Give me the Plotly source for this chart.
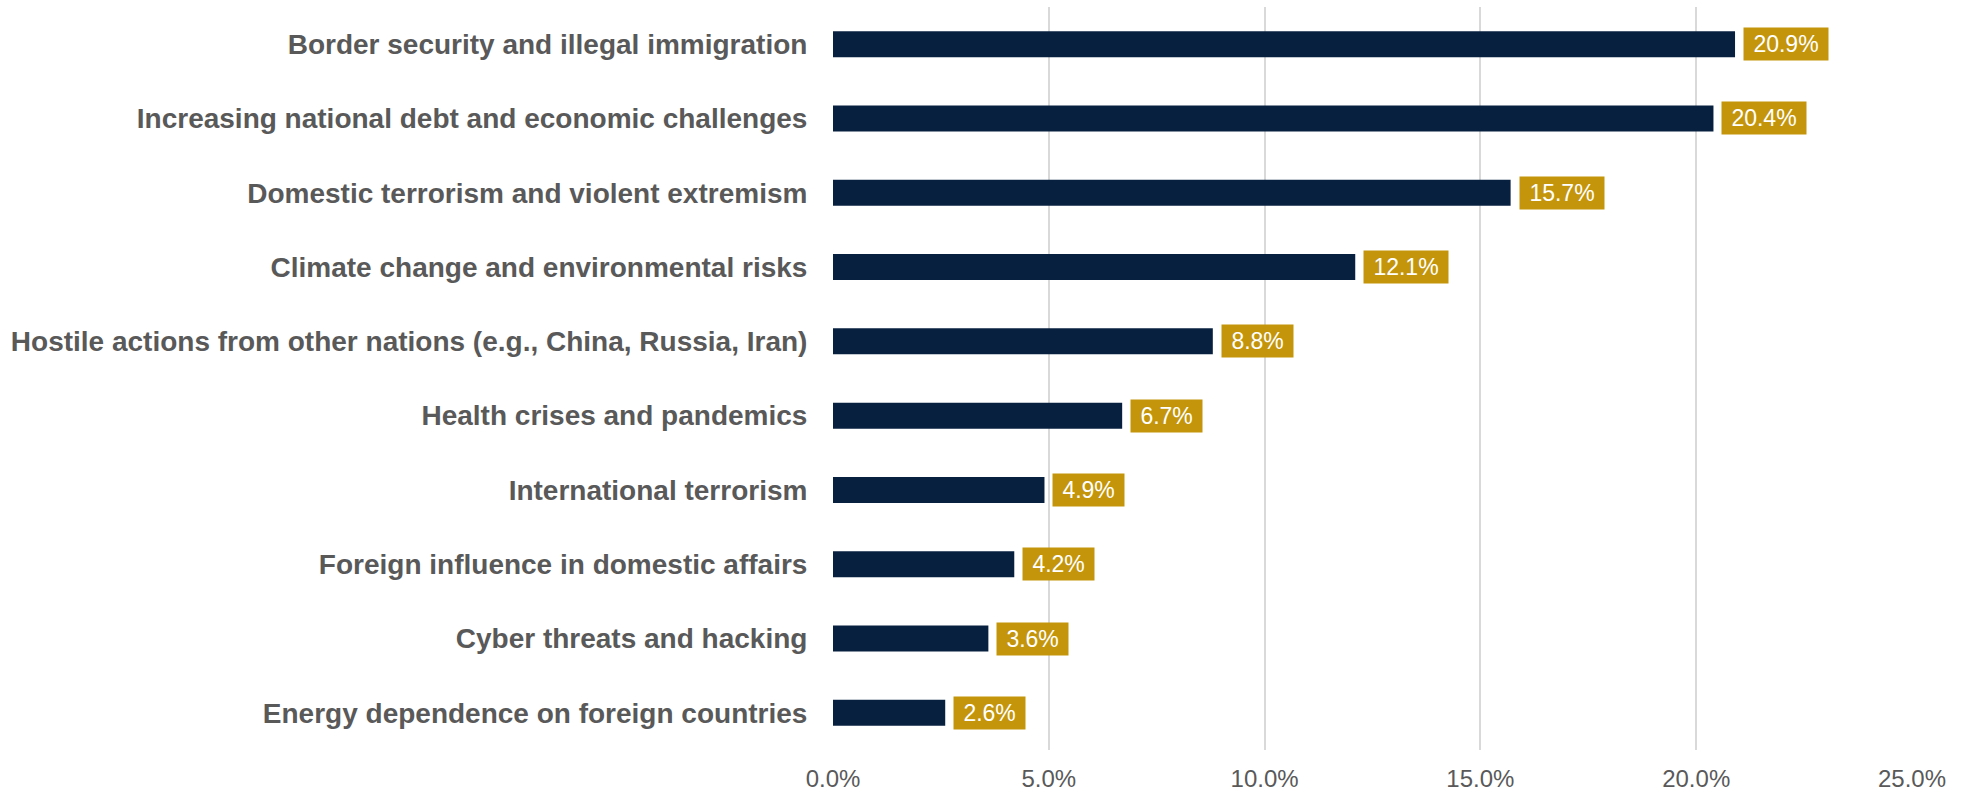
import plotly.graph_objects as go

# Survey: top perceived threats to national security (share of respondents)
categories = [
    "Border security and illegal immigration",
    "Increasing national debt and economic challenges",
    "Domestic terrorism and violent extremism",
    "Climate change and environmental risks",
    "Hostile actions from other nations (e.g., China, Russia, Iran)",
    "Health crises and pandemics",
    "International terrorism",
    "Foreign influence in domestic affairs",
    "Cyber threats and hacking",
    "Energy dependence on foreign countries",
]
values = [20.9, 20.4, 15.7, 12.1, 8.8, 6.7, 4.9, 4.2, 3.6, 2.6]
tick_vals = [0, 5, 10, 15, 20, 25]
tick_text = ["0.0%", "5.0%", "10.0%", "15.0%", "20.0%", "25.0%"]

NAVY = "#08203F"
GOLD = "#C4950A"
GREY_TEXT = "#595959"
FONT = "Liberation Sans, Arial, sans-serif"

fig = go.Figure(
    go.Bar(
        x=values,
        y=categories,
        orientation="h",
        marker=dict(color=NAVY, line=dict(width=0)),
        width=0.35,
        hoverinfo="skip",
    )
)

# Value labels in gold boxes just past the end of each bar
nb = "\u00a0"
for cat, val in zip(categories, values):
    fig.add_annotation(
        x=val,
        y=cat,
        xref="x",
        yref="y",
        text=f"{nb}{val:.1f}%{nb}",
        showarrow=False,
        xanchor="left",
        yanchor="middle",
        xshift=8,
        bgcolor=GOLD,
        borderpad=3,
        font=dict(family=FONT, size=23, color="white"),
    )

fig.update_layout(
    width=1973,
    height=793,
    margin=dict(l=833, r=61, t=7, b=43),
    paper_bgcolor="white",
    plot_bgcolor="white",
    showlegend=False,
    bargap=0.65,
)

fig.update_xaxes(
    range=[0, 25],
    tickvals=tick_vals,
    ticktext=tick_text,
    showgrid=True,
    gridcolor="#D9D9D9",
    gridwidth=2,
    zeroline=False,
    showline=False,
    ticks="outside",
    ticklen=7,
    tickcolor="rgba(0,0,0,0)",
    tickfont=dict(family=FONT, size=24, color=GREY_TEXT),
    automargin=False,
)

fig.update_yaxes(
    categoryorder="array",
    categoryarray=categories,
    autorange="reversed",
    showgrid=False,
    zeroline=False,
    showline=False,
    ticks="outside",
    ticklen=19,
    tickcolor="rgba(0,0,0,0)",
    tickfont=dict(family=FONT, size=28, color=GREY_TEXT, weight="bold"),
    automargin=False,
)

fig.write_html("out.html")
